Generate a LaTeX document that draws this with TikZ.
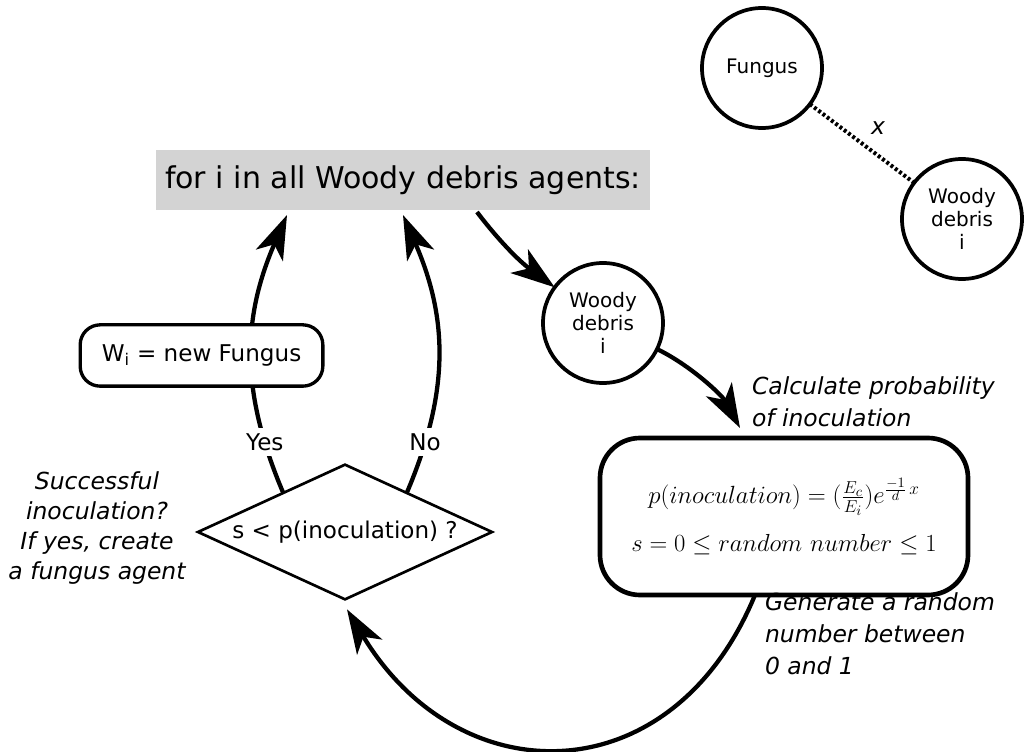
\documentclass[tikz,border=0pt]{standalone}
\usepackage{fontspec}
\setmainfont{DejaVu Sans}
\usetikzlibrary{shapes.geometric,arrows.meta,calc}
\definecolor{boxgray}{RGB}{211,211,211}
\begin{document}
\begin{tikzpicture}[x=0.75pt,y=-0.75pt,
  every node/.style={inner sep=0pt, outer sep=0pt},
  circ/.style={circle, draw, line width=2.8pt, minimum size=90pt, align=center,
    font=\fontsize{15}{17.5}\selectfont},
  arr/.style={line width=3.2pt, -{Stealth[length=33pt,width=22pt,inset=9pt]}},
  lbl/.style={font=\fontsize{17.3}{21}\selectfont},
  yn/.style={lbl, fill=white, inner sep=4pt},
  note/.style={font=\itshape\fontsize{17.6}{24}\selectfont, align=left},
]
\useasboundingbox (0,0) rectangle (1029,752);

% main nodes
\node[fill=boxgray, minimum width=370.5pt, minimum height=45pt,
  font=\fontsize{22.5}{27}\selectfont] (loop) at (403,180) {for i in all Woody debris agents:};
\node[circ] (fungus) at (762,68) {Fungus};
\node[circ] (wd) at (962,219) {Woody\\debris\\i};
\node[circ] (wdi) at (603,323) {Woody\\debris\\i};
\node[draw, line width=3.5pt, rounded corners=30pt, minimum width=276pt, minimum height=117.75pt,
  align=center, font=\fontsize{17.28}{36}\selectfont] (formula) at (784,516.5)
  {\scalebox{1.08}{$p(inoculation) = (\frac{E_c}{E_i})e^{\frac{-1}{d}\,x}$}\\
   \scalebox{1.07}{$s = 0 \leq random\ number \leq 1$}};
\node[diamond, draw, line width=2pt, aspect=2.18, minimum width=220.5pt, minimum height=101pt,
  lbl] (dec) at (345,532) {s < p(inoculation) ?};

% dotted distance
\draw[line width=3pt, dash pattern=on 2.2pt off 1.8pt] (fungus) -- (wd);
\node[font=\itshape\fontsize{17.6}{21}\selectfont] (xlab) at (878,128) {x};

% connectors
\draw[arr] ($(dec.west)!0.58!(dec.north)$) .. controls (239,389) and (243,316) ..
  ($(loop.south)+(-116,5)$) node[yn, pos=0.17] (yes) {Yes};
\draw[arr] ($(dec.north)!0.42!(dec.east)$) .. controls (451,389) and (447,316) ..
  ($(loop.south)+(0,5)$) node[yn, pos=0.17] (no) {No};
\draw[arr] ($(loop.south)+(74,2)$) .. controls (492,232) and (515,258) .. (wdi);
\draw[arr] (wdi) .. controls (690,365) and (722,395) .. ($(formula.north)+(-44,-10)$);
\draw[arr] ($(formula.south)+(-29,0)$) .. controls (672,796) and (459,796) .. ($(dec.south)+(2,10)$);

% new fungus box (over the Yes arc)
\node[draw, line width=2.5pt, rounded corners=15pt, fill=white, minimum width=182pt,
  minimum height=46pt, lbl] (wnew) at (201.5,355.5) {W\textsubscript{i} = new Fungus};

% notes
\node[note, anchor=west] (calc) at (752,402) {Calculate probability\\of inoculation};
\node[note, anchor=west] (gen) at (765,634) {Generate a random\\number between\\0 and 1};
\node[note, align=center, font=\itshape\fontsize{17.6}{22.5}\selectfont] (succ) at (97,528)
  {Successful\\inoculation?\\If yes, create\\a fungus agent};
\end{tikzpicture}
\end{document}
